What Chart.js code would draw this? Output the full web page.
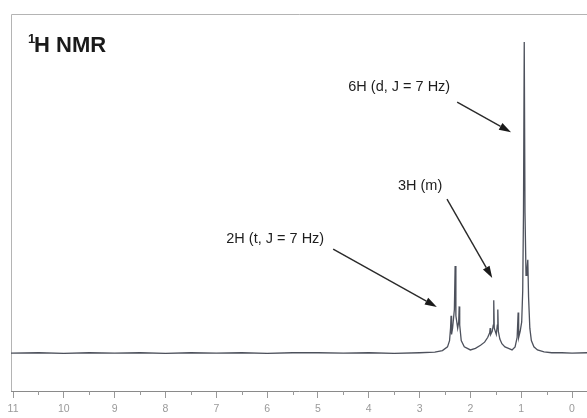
<!DOCTYPE html>
<html>
<head>
<meta charset="utf-8">
<script src="https://cdn.jsdelivr.net/npm/chart.js@4.4.1/dist/chart.umd.min.js"></script>
<style>
  html, body { margin: 0; background: #fff; }
</style>
</head>
<body>
<canvas id="nmrChart" width="587" height="418"></canvas>
<script>
// chemical shift (ppm) and relative intensity
const shifts = [
  11.04, 10.5, 10.0, 9.5, 9.0, 8.5, 8.0, 7.5, 7.0, 6.5, 6.0, 5.5, 5.0, 4.5, 4.0, 3.5, 3.0, 2.7,
  2.55, 2.45, 2.41, 2.39, 2.38, 2.37, 2.35, 2.315, 2.30, 2.285, 2.25, 2.23, 2.22, 2.21, 2.18, 2.12,
  2.0, 1.9, 1.8, 1.72, 1.66, 1.62, 1.61, 1.60, 1.57, 1.55, 1.54, 1.53, 1.49, 1.47, 1.46, 1.45,
  1.42, 1.38, 1.32, 1.25, 1.18, 1.12, 1.08, 1.06, 1.05, 1.02, 0.99, 0.97, 0.955, 0.94, 0.925,
  0.905, 0.89, 0.87, 0.855, 0.83, 0.80, 0.75, 0.68, 0.55, 0.4, 0.2, 0.0, -0.3
];
const intensity = [
  0, 0.1, -0.1, 0.1, 0, 0.1, -0.1, 0.1, 0, 0.1, -0.1, 0.1, 0.1, 0, 0.1, -0.1, 0.1, 0.3,
  0.8, 2, 4, 8, 12, 6, 8, 14, 28, 12, 8, 10, 15, 9, 4, 2,
  1, 1.5, 2.5, 3.5, 5, 6.5, 8, 6, 7, 9, 17, 8, 6, 9, 14, 7,
  4.5, 3, 2, 1.5, 1, 2, 5, 13, 5, 7, 10, 20, 45, 100, 45,
  25, 26, 30, 18, 8, 4, 2, 1, 0.4, 0.1, 0.1, 0, 0.1
];
const tickLabels = ['11', '10', '9', '8', '7', '6', '5', '4', '3', '2', '1', '0'];
const minorTicks = [10.5, 9.5, 8.5, 7.5, 6.5, 5.5, 4.5, 3.5, 2.5, 1.5, 0.5];

// annotation labels: text spot and arrow ends in (ppm, intensity)
const notes = [
  { text: '6H (d, J = 7 Hz)', at: [3.40, 85.5], from: [2.26, 80.7], to: [1.20, 71] },
  { text: '3H (m)', at: [2.99, 53.7], from: [2.46, 49.5], to: [1.57, 24.1] },
  { text: '2H (t, J = 7 Hz)', at: [5.84, 36.7], from: [4.70, 33.4], to: [2.66, 14.8] }
];

const points = shifts.map((s, i) => ({ x: s, y: intensity[i] }));

const decorPlugin = {
  id: 'decor',
  beforeDatasetsDraw(chart) {
    const c = chart.ctx, a = chart.chartArea;
    c.save();
    c.strokeStyle = '#b4b4b4';
    c.lineWidth = 1;
    c.beginPath();
    c.moveTo(a.left + 0.5, a.bottom);
    c.lineTo(a.left + 0.5, a.top + 0.5);
    c.lineTo(a.right, a.top + 0.5);
    c.stroke();
    c.restore();
  },
  afterDatasetsDraw(chart) {
    const c = chart.ctx, a = chart.chartArea;
    const xs = chart.scales.x, ys = chart.scales.y;
    c.save();
    // minor ticks
    c.strokeStyle = '#999';
    c.lineWidth = 1;
    minorTicks.forEach(v => {
      const px = Math.round(xs.getPixelForValue(v)) + 0.5;
      c.beginPath();
      c.moveTo(px, a.bottom);
      c.lineTo(px, a.bottom + 4);
      c.stroke();
    });
    // title
    c.fillStyle = '#1a1a1a';
    c.font = 'bold 13px "Liberation Sans", Arial, sans-serif';
    c.textBaseline = 'alphabetic';
    c.fillText('1', 28, 43);
    c.font = 'bold 22px "Liberation Sans", Arial, sans-serif';
    c.fillText('H NMR', 34, 52);
    // annotations
    notes.forEach(n => {
      c.font = '14.5px "Liberation Sans", Arial, sans-serif';
      c.fillStyle = '#1e1e1e';
      c.textAlign = 'center';
      c.textBaseline = 'middle';
      c.fillText(n.text, xs.getPixelForValue(n.at[0]), ys.getPixelForValue(n.at[1]));
      const x1 = xs.getPixelForValue(n.from[0]), y1 = ys.getPixelForValue(n.from[1]);
      const x2 = xs.getPixelForValue(n.to[0]), y2 = ys.getPixelForValue(n.to[1]);
      const ang = Math.atan2(y2 - y1, x2 - x1);
      const head = 12, half = 3.8;
      const bx = x2 - head * Math.cos(ang), by = y2 - head * Math.sin(ang);
      c.strokeStyle = '#2a2a2a';
      c.lineWidth = 1.4;
      c.beginPath();
      c.moveTo(x1, y1);
      c.lineTo(bx, by);
      c.stroke();
      c.fillStyle = '#1a1a1a';
      c.beginPath();
      c.moveTo(x2, y2);
      c.lineTo(bx + half * Math.sin(ang), by - half * Math.cos(ang));
      c.lineTo(bx - half * Math.sin(ang), by + half * Math.cos(ang));
      c.closePath();
      c.fill();
    });
    c.restore();
  }
};

const ctx = document.getElementById('nmrChart').getContext('2d');
const nmrChart = new Chart(ctx, {
  type: 'line',
  data: {
    datasets: [{
      data: points,
      borderColor: '#4d515c',
      borderWidth: 1.3,
      pointRadius: 0,
      tension: 0,
      fill: false
    }]
  },
  options: {
    responsive: false,
    animation: false,
    events: [],
    layout: { padding: { top: 14, left: 11, right: 0, bottom: 0 } },
    plugins: {
      legend: { display: false },
      tooltip: { enabled: false }
    },
    scales: {
      x: {
        type: 'linear',
        reverse: true,
        min: -0.295,
        max: 11.04,
        afterFit(scale) { scale.height = 27; },
        border: { color: '#8a8a8a', dash: [3, 2], width: 1 },
        grid: { drawOnChartArea: false, drawTicks: true, tickLength: 7, color: '#999' },
        ticks: {
          stepSize: 1,
          includeBounds: false,
          autoSkip: false,
          maxRotation: 0,
          padding: 5,
          color: '#9a9a9a',
          font: { size: 10.5, family: '"Liberation Sans", Arial, sans-serif' },
          callback: v => tickLabels.includes(String(v)) ? String(v) : ''
        }
      },
      y: { display: false, min: -12.2, max: 109 }
    }
  },
  plugins: [decorPlugin]
});
</script>
</body>
</html>
